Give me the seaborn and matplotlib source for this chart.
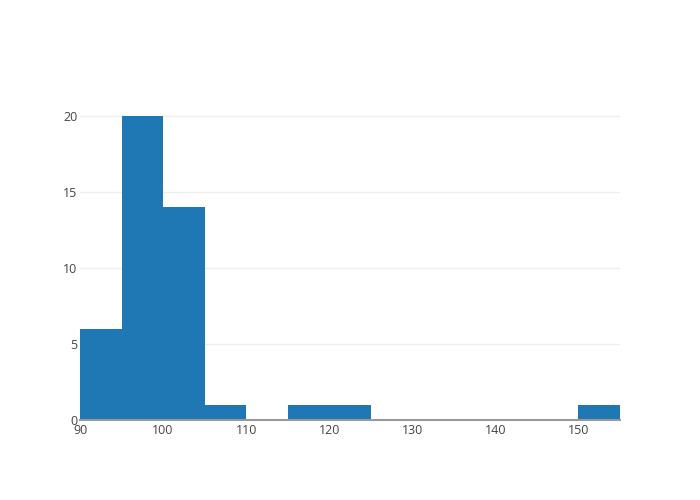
import numpy as np
import pandas as pd
import matplotlib
matplotlib.use('Agg')
import matplotlib.pyplot as plt
import seaborn as sns

# histogram bins (width 5) and counts
bin_left = [90, 95, 100, 105, 110, 115, 120, 125, 130, 135, 140, 145, 150]
counts = [6, 20, 14, 1, 0, 1, 1, 0, 0, 0, 0, 0, 1]
bin_width = 5

edges = bin_left + [bin_left[-1] + bin_width]
df = pd.DataFrame({'value': [b + bin_width / 2 for b in bin_left], 'count': counts})

sns.set_style('white')
plt.rcParams['font.family'] = ['Open Sans', 'DejaVu Sans']

fig = plt.figure(figsize=(7, 5), dpi=100)
ax = fig.add_axes([80 / 700, 80 / 500, 540 / 700, 320 / 500])

sns.histplot(data=df, x='value', weights='count', bins=edges, color='#1f77b4',
             alpha=1, edgecolor='none', linewidth=0, ax=ax)

ax.set_xlim(90, 155)
ax.set_ylim(0, 320 / 15.2)
ax.set_yticks([0, 5, 10, 15, 20])
ax.set_xticks([90, 100, 110, 120, 130, 140, 150])
ax.grid(axis='y', color='#eeeeee', linewidth=1)
ax.set_axisbelow(True)
for s in ['top', 'right', 'left']:
    ax.spines[s].set_visible(False)
ax.spines['bottom'].set_color('#999999')
ax.spines['bottom'].set_linewidth(1.5)
ax.spines['bottom'].set_zorder(5)
ax.tick_params(axis='both', length=0, labelsize=9, labelcolor='#444444')
ax.tick_params(axis='y', pad=2)
ax.tick_params(axis='x', pad=3)
ax.set_xlabel('')
ax.set_ylabel('')

fig.savefig('out.png', dpi=100)
